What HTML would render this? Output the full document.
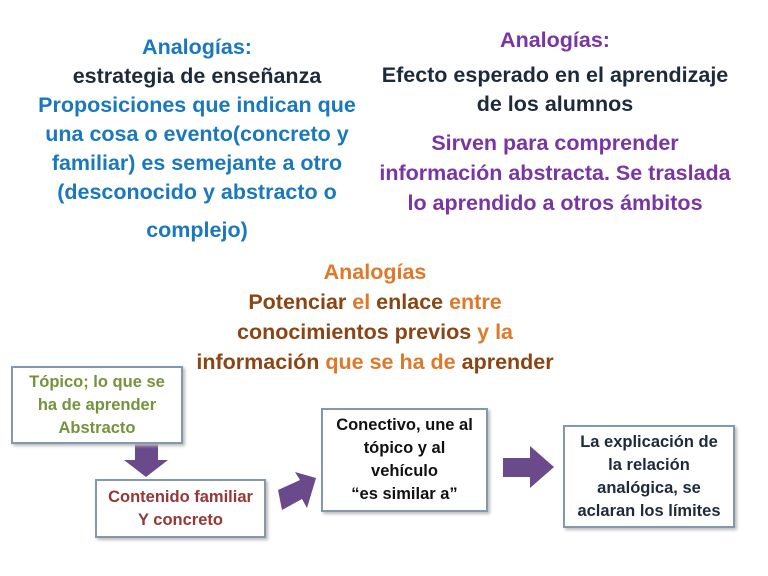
<!DOCTYPE html>
<html><head><meta charset="utf-8"><style>
body{margin:0;width:768px;height:576px;background:#fff;position:relative;overflow:hidden;font-family:"Liberation Sans",sans-serif;font-weight:bold}
.l{position:absolute;text-align:center;white-space:nowrap;font-size:21.5px;letter-spacing:0;line-height:24px;height:24px}
.b{color:#1a78bd}.k{color:#1e2a3a}.p{color:#7a35a5}.o{color:#e0782a}.br{color:#8b4513}
.box{position:absolute;border:2px solid #8597ab;background:#fff;box-shadow:2px 2px 3px #bbb;display:flex;align-items:center;justify-content:center;text-align:center;font-size:16.5px;line-height:23px;letter-spacing:0;white-space:nowrap}
</style></head><body>
<div class="l b" style="left:0;width:394px;top:35px">Analogías:</div>
<div class="l k" style="left:0;width:394px;top:64px">estrategia de enseñanza</div>
<div class="l b" style="left:0;width:394px;top:93px">Proposiciones que indican que</div>
<div class="l b" style="left:0;width:394px;top:122px">una cosa o evento(concreto y</div>
<div class="l b" style="left:0;width:394px;top:151px">familiar) es semejante a otro</div>
<div class="l b" style="left:0;width:394px;top:180px">(desconocido y abstracto o</div>
<div class="l b" style="left:0;width:394px;top:218px">complejo)</div>

<div class="l p" style="left:355px;width:400px;top:28px">Analogías:</div>
<div class="l k" style="left:355px;width:400px;top:63px">Efecto esperado en el aprendizaje</div>
<div class="l k" style="left:355px;width:400px;top:92px">de los alumnos</div>
<div class="l p" style="left:355px;width:400px;top:131px">Sirven para comprender</div>
<div class="l p" style="left:355px;width:400px;top:161px">información abstracta. Se traslada</div>
<div class="l p" style="left:355px;width:400px;top:191px">lo aprendido a otros ámbitos</div>

<div class="l o" style="left:175px;width:400px;top:260px">Analogías</div>
<div class="l" style="left:175px;width:400px;top:290px"><span class="br">Potenciar </span><span class="o">el </span><span class="br">enlace </span><span class="o">entre</span></div>
<div class="l" style="left:175px;width:400px;top:320px"><span class="br">conocimientos previos </span><span class="o">y la</span></div>
<div class="l" style="left:175px;width:400px;top:350px"><span class="br">información </span><span class="o">que se ha de </span><span class="br">aprender</span></div>

<svg width="768" height="576" style="position:absolute;left:0;top:0">
<polygon points="135,442 158,442 158,460 168,460 146,477 124,460 135,460" fill="#6a4a8a"/>
<polygon points="278,490 300,480 295,472 316,478 307,508 302,499 282,510" fill="#6a4a8a"/>
<polygon points="503,458 530,458 530,446 554,467 530,488 530,477 503,477" fill="#6a4a8a"/>
</svg>
<div class="box" style="left:11px;top:366px;width:168px;height:74px;color:#76923c">Tópico; lo que se<br>ha de aprender<br>Abstracto</div>
<div class="box" style="left:95px;top:479px;width:167px;height:55px;color:#953735">Contenido familiar<br>Y concreto</div>
<div class="box" style="left:321px;top:408px;width:163px;height:100px;color:#111">Conectivo, une al<br>tópico y al<br>vehículo<br>“es similar a”</div>
<div class="box" style="left:563px;top:425px;width:168px;height:99px;color:#1e2a3a">La explicación de<br>la relación<br>analógica, se<br>aclaran los límites</div>
</body></html>
